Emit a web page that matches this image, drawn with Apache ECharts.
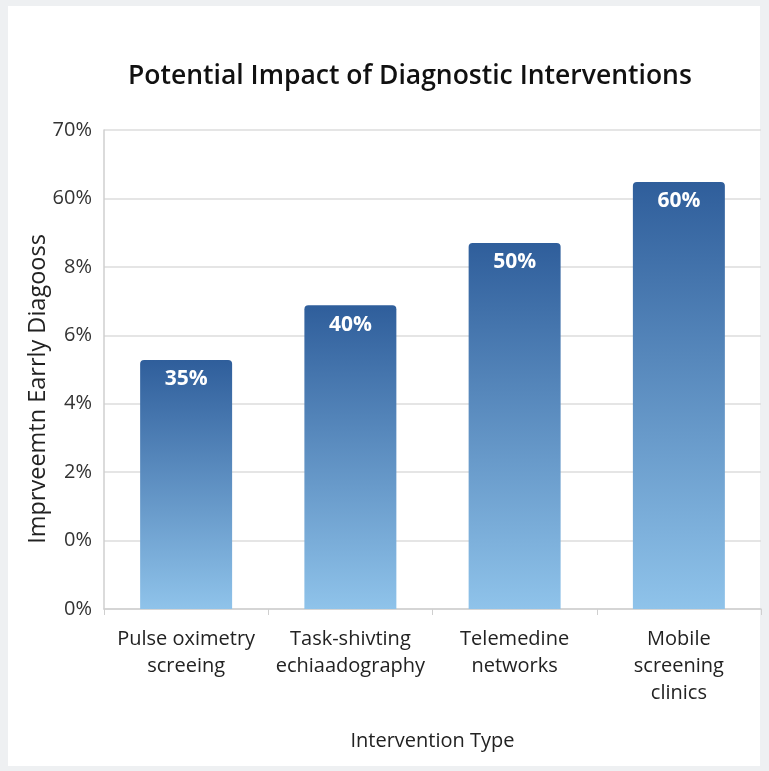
<!DOCTYPE html>
<html><head><meta charset="utf-8">
<script src="https://cdn.jsdelivr.net/npm/echarts@6/dist/echarts.min.js"></script>
<style>
html,body{margin:0;padding:0;background:#eef0f2;}
#panel{position:absolute;left:8px;top:6px;width:752px;height:760px;background:#fff;}
#chart{position:absolute;left:0;top:0;width:769px;height:771px;}
</style></head>
<body><div id="panel"></div><div id="chart"></div>
<script>
const categories = ["Pulse oximetry\nscreeing", "Task-shivting\nechiaadography", "Telemedine\nnetworks", "Mobile\nscreening\nclinics"];
const barHeights = [3.64, 4.44, 5.35, 6.24];
const barLabels = ["35%", "40%", "50%", "60%"];
const yTickLabels = ["0%", "0%", "2%", "4%", "6%", "8%", "60%", "70%"];
const yAxisTitle = 'Imprveemtn Earrly Diagooss';
const FONT = "Open Sans";
const chart = echarts.init(document.getElementById('chart'));
chart.setOption({
  backgroundColor: 'transparent',
  title: { text: 'Potential Impact of Diagnostic Interventions', left: 123, top: 58,
    textStyle: { fontFamily: FONT, fontSize: 26.5, fontWeight: 600, color: '#111' } },
  grid: { left: 104, right: 8, top: 130, bottom: 162 },
  graphic: [{ type: 'text', x: 38, y: 389, rotation: Math.PI / 2,
    style: { text: yAxisTitle, fontFamily: FONT, fontSize: 23.5, fill: '#222',
      align: 'center', verticalAlign: 'middle' } }],
  xAxis: { type: 'category', data: categories,
    name: 'Intervention Type', nameLocation: 'middle', nameGap: 122,
    nameTextStyle: { fontFamily: FONT, fontSize: 20, color: '#222' },
    axisLine: { lineStyle: { color: '#cfcfcf', width: 1.5 } },
    axisTick: { show: true, length: 6, lineStyle: { color: '#cfcfcf' } },
    axisLabel: { fontFamily: FONT, fontSize: 20, color: '#222', lineHeight: 27, margin: 17, interval: 0 } },
  yAxis: { type: 'value', min: 0, max: 7, interval: 1,
    axisLine: { show: true, lineStyle: { color: '#cfcfcf', width: 1.5 } },
    axisTick: { show: false },
    splitLine: { lineStyle: { color: '#dcdcdc', width: 1.5 } },
    axisLabel: { fontFamily: FONT, fontSize: 20, color: '#333', margin: 12,
      formatter: (v) => yTickLabels[Math.round(v)] } },
  series: [{ type: 'bar', data: barHeights, barWidth: '56%',
    itemStyle: { borderRadius: [4, 4, 0, 0],
      color: new echarts.graphic.LinearGradient(0, 0, 0, 1, [
        { offset: 0, color: '#2f5e9b' }, { offset: 1, color: '#8fc3ea' }]) },
    label: { show: true, position: 'insideTop', distance: 9,
      formatter: (p) => barLabels[p.dataIndex],
      fontFamily: FONT, fontSize: 21, fontWeight: 'bold', color: '#fff' } }]
});
</script></body></html>
